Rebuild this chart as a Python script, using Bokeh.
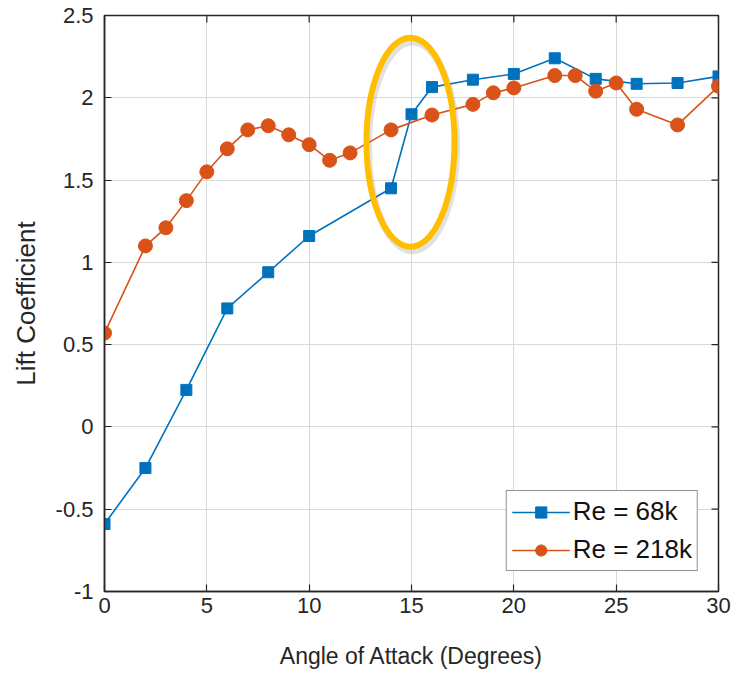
import math
from bokeh.plotting import figure
from bokeh.models import FixedTicker, CustomJSTickFormatter, Range1d
from bokeh.embed import file_html
from bokeh.resources import INLINE

# Re = 68k
aoa_68k = [0, 2, 4, 6, 8, 10, 14, 15, 16, 18, 20, 22, 24, 26, 28, 30]
cl_68k = [-0.59, -0.25, 0.225, 0.72, 0.94, 1.16, 1.45, 1.90, 2.065, 2.11, 2.145, 2.24, 2.115, 2.085, 2.09, 2.13]

# Re = 218k
aoa_218k = [0, 2, 3, 4, 5, 6, 7, 8, 9, 10, 11, 12, 14, 16, 18, 19, 20, 22, 23, 24, 25, 26, 28, 30]
cl_218k = [0.57, 1.10, 1.21, 1.375, 1.55, 1.69, 1.805, 1.83, 1.775, 1.715, 1.62, 1.665, 1.805,
           1.895, 1.96, 2.03, 2.06, 2.135, 2.135, 2.04, 2.09, 1.93, 1.835, 2.07]

x_ticks = [0, 5, 10, 15, 20, 25, 30]
y_ticks = [-1, -0.5, 0, 0.5, 1, 1.5, 2, 2.5]
x_lim = (0, 30)
y_lim = (-1, 2.5)

# highlight ellipse (annotation)
hl_x, hl_y, hl_w, hl_h = 14.95, 1.73, 4.3, 1.27

FONT = "Liberation Sans"
DARK = "#262626"
BLUE = "#0072BD"
ORANGE = "#D95319"

p = figure(width=735, height=675, output_backend="svg", toolbar_location=None,
           x_range=Range1d(*x_lim), y_range=Range1d(*y_lim),
           min_border_left=104, min_border_right=17, min_border_top=15, min_border_bottom=84)
p.background_fill_color = "white"
p.border_fill_color = "white"
p.outline_line_color = DARK
p.outline_line_width = 1.5

xa = p.xaxis[0]
ya = p.yaxis[0]
xa.ticker = FixedTicker(ticks=x_ticks)
ya.ticker = FixedTicker(ticks=y_ticks)
ya.formatter = CustomJSTickFormatter(code="return tick.toString();")
xa.axis_label = "Angle of Attack (Degrees)"
ya.axis_label = "Lift Coefficient"

for ax in (xa, ya):
    ax.axis_line_color = DARK
    ax.axis_line_width = 1.5
    ax.major_tick_in = 7
    ax.major_tick_out = 0
    ax.major_tick_line_color = DARK
    ax.major_tick_line_width = 1.2
    ax.minor_tick_line_color = None
    ax.major_label_text_color = DARK
    ax.major_label_text_font = FONT
    ax.major_label_text_font_size = "22px"
    ax.axis_label_text_font = FONT
    ax.axis_label_text_font_style = "normal"
    ax.axis_label_text_color = DARK

xa.axis_label_text_font_size = "23px"
ya.axis_label_text_font_size = "26px"
xa.major_label_standoff = 6
ya.major_label_standoff = 11
xa.axis_label_standoff = 27
ya.axis_label_standoff = 12

p.xgrid.ticker = FixedTicker(ticks=x_ticks)
p.ygrid.ticker = FixedTicker(ticks=y_ticks)
p.grid.grid_line_color = "#D9D9D9"
p.grid.grid_line_width = 1

# inward tick marks on top and right edges of the box (clipped to frame)
p.scatter(x=x_ticks, y=[y_lim[1]] * len(x_ticks), marker="dash", angle=math.pi / 2,
          size=14, line_color=DARK, line_width=1.2)
p.scatter(x=[x_lim[1]] * len(y_ticks), y=y_ticks, marker="dash",
          size=14, line_color=DARK, line_width=1.2)

p.line(aoa_68k, cl_68k, color=BLUE, line_width=1.6, legend_label="Re = 68k")
p.scatter(aoa_68k, cl_68k, marker="square", size=11, color=BLUE, legend_label="Re = 68k")
p.line(aoa_218k, cl_218k, color=ORANGE, line_width=1.6, legend_label="Re = 218k")
p.scatter(aoa_218k, cl_218k, marker="circle", size=14, color=ORANGE, legend_label="Re = 218k")

# soft shadow + highlight ellipse
p.ellipse(x=hl_x + 0.1, y=hl_y - 0.025, width=hl_w, height=hl_h, fill_color=None,
          line_color="#888888", line_alpha=0.25, line_width=7)
p.ellipse(x=hl_x, y=hl_y, width=hl_w, height=hl_h, fill_color=None,
          line_color="#FFBF00", line_width=6)

leg = p.legend[0]
leg.location = "bottom_right"
leg.margin = 20
leg.label_text_font = FONT
leg.label_text_font_size = "26px"
leg.label_text_color = "#111111"
leg.border_line_color = DARK
leg.border_line_width = 1.2
leg.glyph_width = 58
leg.glyph_height = 28
leg.label_standoff = 3
leg.padding = 5
leg.spacing = 7
leg.background_fill_alpha = 1

open("out.html", "w").write(file_html(p, INLINE))
